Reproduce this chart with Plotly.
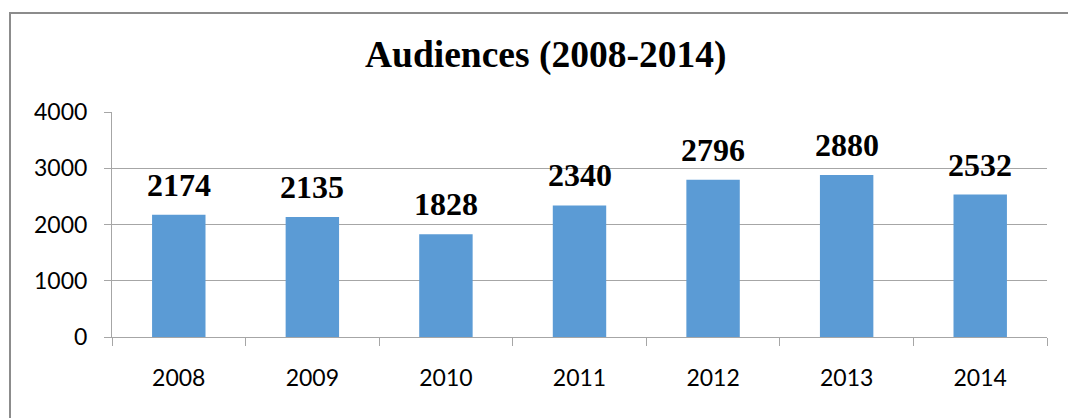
import plotly.graph_objects as go

# Yearly audience figures
years = ["2008", "2009", "2010", "2011", "2012", "2013", "2014"]
audiences = [2174, 2135, 1828, 2340, 2796, 2880, 2532]
y_ticks = [0, 1000, 2000, 3000, 4000]

W, H = 1068, 418
L, R, T, B = 112, 21, 112, 81
plot_w = W - L - R
plot_h = H - T - B

def px_x(px):
    return (px - L) / plot_w

def px_y(py):
    return (H - B - py) / plot_h

grid = "#a6a6a6"
label_font = dict(family="Lato, 'Noto Sans', sans-serif", size=23, color="#000000")
serif_bold = "'Liberation Serif', 'Times New Roman', serif"

fig = go.Figure(
    go.Bar(
        x=years,
        y=audiences,
        marker=dict(color="#5B9BD5", line=dict(width=0)),
        width=0.4,
        hoverinfo="skip",
    )
)

# Value labels above each bar (category axis positions by index)
annotations = [
    dict(
        x=i, y=v, xref="x", yref="y",
        text=f"<b>{v}</b>", showarrow=False,
        xanchor="center", yanchor="middle", yshift=30,
        font=dict(family=serif_bold, size=32, color="#000000"),
    )
    for i, v in enumerate(audiences)
]

# Chart title
annotations.append(
    dict(
        x=px_x(545), y=px_y(55), xref="paper", yref="paper",
        text="<b>Audiences (2008-2014)</b>", showarrow=False,
        xanchor="center", yanchor="middle",
        font=dict(family=serif_bold, size=37.5, color="#000000"),
    )
)

fig.update_layout(
    width=W, height=H,
    margin=dict(l=L, r=R, t=T, b=B),
    paper_bgcolor="#ffffff",
    plot_bgcolor="#ffffff",
    showlegend=False,
    annotations=annotations,
    shapes=[
        # chart frame
        dict(
            type="rect", xref="paper", yref="paper",
            x0=px_x(10), x1=px_x(1100), y0=px_y(460), y1=px_y(13),
            line=dict(color="#8c8c8c", width=2), fillcolor="rgba(0,0,0,0)",
            layer="below",
        )
    ],
    xaxis=dict(
        type="category",
        categoryarray=years,
        range=[-0.5, len(years) - 0.5],
        showline=True, linecolor=grid, linewidth=1,
        ticks="outside", tickson="boundaries", ticklen=8, tickcolor=grid,
        tickfont=label_font, ticklabelstandoff=20, tickangle=0,
        showgrid=False, zeroline=False,
    ),
    yaxis=dict(
        range=[0, 4000], tickvals=y_ticks,
        showline=True, linecolor=grid, linewidth=1,
        ticks="outside", ticklen=7, tickcolor=grid,
        tickfont=label_font, ticklabelstandoff=12,
        showgrid=True, gridcolor=grid, gridwidth=1,
        zeroline=False,
    ),
)

fig.write_html("out.html")
